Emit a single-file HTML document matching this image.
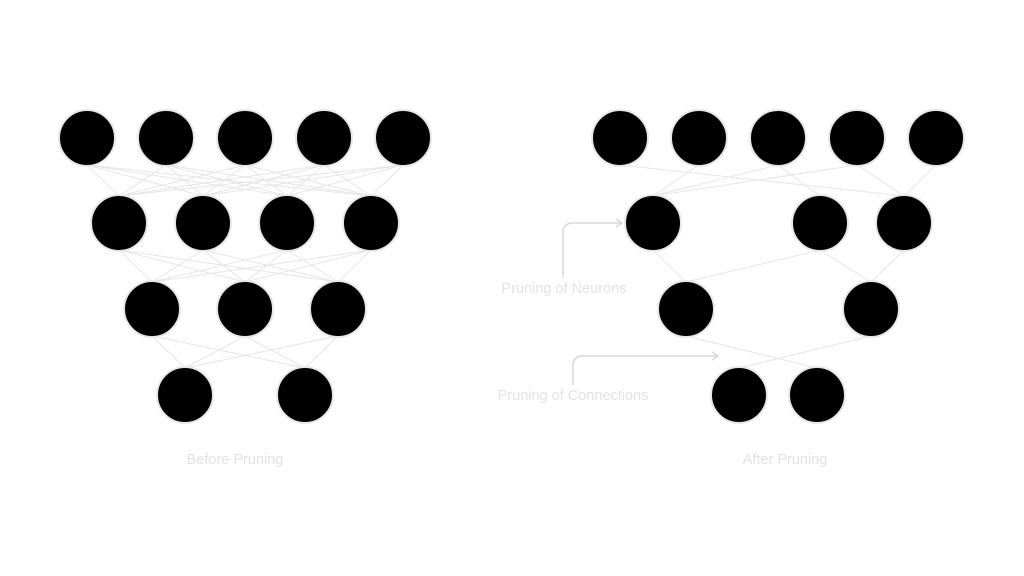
<!DOCTYPE html>
<html><head><style>
html,body{margin:0;padding:0;background:#fff;}
svg{display:block;}
text{font-family:"Liberation Sans",sans-serif;font-size:14.5px;fill:#e3e3e3;text-anchor:middle;}
</style></head><body>
<svg width="1024" height="576" viewBox="0 0 1024 576" xmlns="http://www.w3.org/2000/svg">
<g stroke="#e6e6e6" stroke-width="1" fill="none">
<path d="M87 165L119 196M87 165L203 196M87 165L287 196M87 165L371 196
M166 165L119 196M166 165L203 196M166 165L287 196M166 165L371 196
M245 165L119 196M245 165L203 196M245 165L287 196M245 165L371 196
M324 165L119 196M324 165L203 196M324 165L287 196M324 165L371 196
M403 165L119 196M403 165L203 196M403 165L287 196M403 165L371 196
M119 250L152 282M119 250L245 282M119 250L338 282
M203 250L152 282M203 250L245 282M203 250L338 282
M287 250L152 282M287 250L245 282M287 250L338 282
M371 250L152 282M371 250L245 282M371 250L338 282
M152 336L185 368M152 336L305 368
M245 336L185 368M245 336L305 368
M338 336L185 368M338 336L305 368"/>
<path d="M620 165L904 196M699 165L653 196M778 165L653 196M778 165L820 196M857 165L653 196M857 165L904 196M936 165L904 196
M653 250L686 282M820 250L686 282M820 250L871 282M904 250L871 282
M686 336L817 368M871 336L739 368"/>
</g>
<g fill="#000" stroke="#e8e8e8" stroke-width="2">
<circle cx="87" cy="138" r="28"/><circle cx="166" cy="138" r="28"/><circle cx="245" cy="138" r="28"/><circle cx="324" cy="138" r="28"/><circle cx="403" cy="138" r="28"/>
<circle cx="119" cy="223" r="28"/><circle cx="203" cy="223" r="28"/><circle cx="287" cy="223" r="28"/><circle cx="371" cy="223" r="28"/>
<circle cx="152" cy="309" r="28"/><circle cx="245" cy="309" r="28"/><circle cx="338" cy="309" r="28"/>
<circle cx="185" cy="395" r="28"/><circle cx="305" cy="395" r="28"/>
<circle cx="620" cy="138" r="28"/><circle cx="699" cy="138" r="28"/><circle cx="778" cy="138" r="28"/><circle cx="857" cy="138" r="28"/><circle cx="936" cy="138" r="28"/>
<circle cx="653" cy="223" r="28"/><circle cx="820" cy="223" r="28"/><circle cx="904" cy="223" r="28"/>
<circle cx="686" cy="309" r="28"/><circle cx="871" cy="309" r="28"/>
<circle cx="739" cy="395" r="28"/><circle cx="817" cy="395" r="28"/>
</g>
<g stroke="#d8d8d8" stroke-width="1.5" fill="none">
<path d="M563 278V233Q563 223 573 223H621"/>
<path d="M616 219L622 223L616 227"/>
<path d="M573 385V366Q573 356 583 356H717"/>
<path d="M712 352L718 356L712 360"/>
</g>
<text x="564" y="293">Pruning of Neurons</text>
<text x="573" y="400">Pruning of Connections</text>
<text x="235" y="464">Before Pruning</text>
<text x="785" y="464">After Pruning</text>
</svg>
</body></html>
